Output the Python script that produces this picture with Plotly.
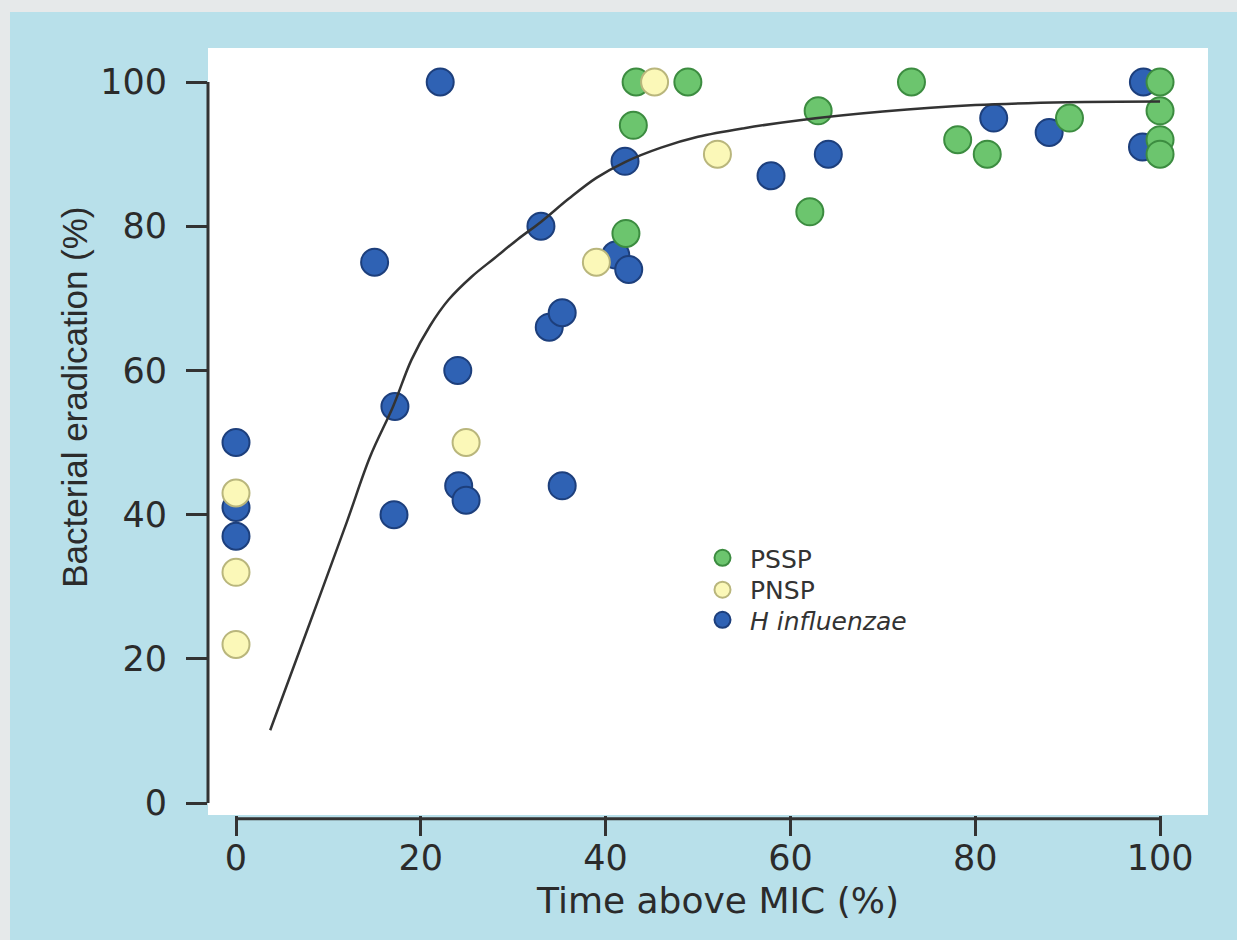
import plotly.graph_objects as go

# ---- data ----
hinf_x = [22.1, 0, 0, 0, 15.0, 17.2, 17.1, 24.0, 24.1, 24.9, 33.0, 33.9, 35.3, 35.3,
          41.1, 42.5, 42.1, 57.9, 64.1, 82.0, 88.0, 98.2, 98.1]
hinf_y = [100, 50, 41, 37, 75, 55, 40, 60, 44, 42, 80, 66, 68, 44,
          76, 74, 89, 87, 90, 95, 93, 100, 91]

pssp_x = [43.3, 48.9, 73.1, 100, 43.0, 42.2, 63.0, 62.1, 78.1, 81.3, 90.2, 100, 100, 100]
pssp_y = [100, 100, 100, 100, 94, 79, 96, 82, 92, 90, 95, 96, 92, 90]

pnsp_x = [45.3, 0, 0, 0, 24.9, 39.0, 52.1]
pnsp_y = [100, 43, 32, 22, 50, 75, 90]

curve_x = [3.7, 8, 12, 14.5, 17, 19, 21, 23, 25.5, 28, 30.5, 33, 36, 39, 42.1,
           46, 50, 55, 61, 70, 80, 90, 100]
curve_y = [10.1, 25, 39, 48, 55, 61.5, 66.2, 69.8, 73, 75.6, 78.2, 80.6, 83.8, 86.7, 88.9,
           90.9, 92.4, 93.6, 94.7, 95.9, 96.8, 97.2, 97.3]

x_ticks = [0, 20, 40, 60, 80, 100]
y_ticks = [0, 20, 40, 60, 80, 100]

x_title = "Time above MIC (%)"
y_title = "Bacterial eradication (%)"

TXT = "#2b2b2b"
BG = "#b8e0ea"

fig = go.Figure()

fig.add_trace(go.Scatter(
    x=hinf_x, y=hinf_y, mode="markers", name="<i>H influenzae</i>", legend="legend3",
    marker=dict(size=27, color="#2f62b4", line=dict(color="#1d3f7c", width=2))))
fig.add_trace(go.Scatter(
    x=pssp_x, y=pssp_y, mode="markers", name="PSSP", legend="legend",
    marker=dict(size=27, color="#6cc56e", line=dict(color="#3c8c40", width=2))))
fig.add_trace(go.Scatter(
    x=pnsp_x, y=pnsp_y, mode="markers", name="PNSP", legend="legend2",
    marker=dict(size=27, color="#fbf8b8", line=dict(color="#b9b67c", width=2))))
fig.add_trace(go.Scatter(
    x=curve_x, y=curve_y, mode="lines", showlegend=False,
    line=dict(color="#333333", width=2.5, shape="spline", smoothing=1.0)))

leg_common = dict(x=0.487, xanchor="left", yanchor="middle", bgcolor="rgba(0,0,0,0)",
                  font=dict(size=25, family="DejaVu Sans", color="#333"), itemwidth=45)

fig.update_layout(
    width=1237, height=940,
    margin=dict(l=208, r=29, t=48, b=125),
    paper_bgcolor=BG, plot_bgcolor="white",
    font=dict(family="DejaVu Sans", color=TXT),
    showlegend=True,
    legend=dict(y=0.335, **leg_common),
    legend2=dict(y=0.2934, **leg_common),
    legend3=dict(y=0.2542, **leg_common),
    xaxis=dict(range=[-3.03, 105.19], tickvals=x_ticks, ticktext=[str(v) for v in x_ticks],
               showgrid=False, zeroline=False, showline=False,
               ticks="outside", ticklen=20, tickwidth=3, tickcolor="#333",
               ticklabelstandoff=-8, tickfont=dict(size=35, color=TXT)),
    yaxis=dict(range=[-1.66, 104.72], tickvals=y_ticks, ticktext=[str(v) for v in y_ticks],
               showgrid=False, zeroline=False, showline=False,
               ticks="outside", ticklen=21, tickwidth=3, tickcolor="#333",
               ticklabelstandoff=12, tickfont=dict(size=35, color=TXT)),
    annotations=[
        dict(text=x_title, xref="paper", yref="paper", x=0.509, y=-0.111,
             xanchor="center", yanchor="middle", showarrow=False,
             font=dict(size=36, family="DejaVu Sans", color=TXT)),
        dict(text=y_title, xref="paper", yref="paper", x=-0.133, y=0.544,
             xanchor="center", yanchor="middle", showarrow=False, textangle=-90,
             font=dict(size=35, family="Liberation Sans", color=TXT)),
    ],
    shapes=[
        dict(type="line", xref="paper", yref="y", x0=0, x1=0, y0=0, y1=100,
             line=dict(color="#333", width=3)),
        dict(type="line", xref="x", yref="paper", x0=0, x1=100, y0=-0.005, y1=-0.005,
             line=dict(color="#333", width=3)),
        dict(type="rect", xref="paper", yref="paper", x0=-0.21, x1=1.03, y0=1.0469, y1=1.07,
             fillcolor="#e6e9ea", line=dict(width=0), layer="below"),
        dict(type="rect", xref="paper", yref="paper", x0=-0.21, x1=-0.198, y0=-0.2, y1=1.07,
             fillcolor="#e6e9ea", line=dict(width=0), layer="below"),
    ],
)

fig.write_html("out.html", config={"displayModeBar": False},
               post_script="document.body.style.margin='0';document.body.style.overflow='hidden';")
